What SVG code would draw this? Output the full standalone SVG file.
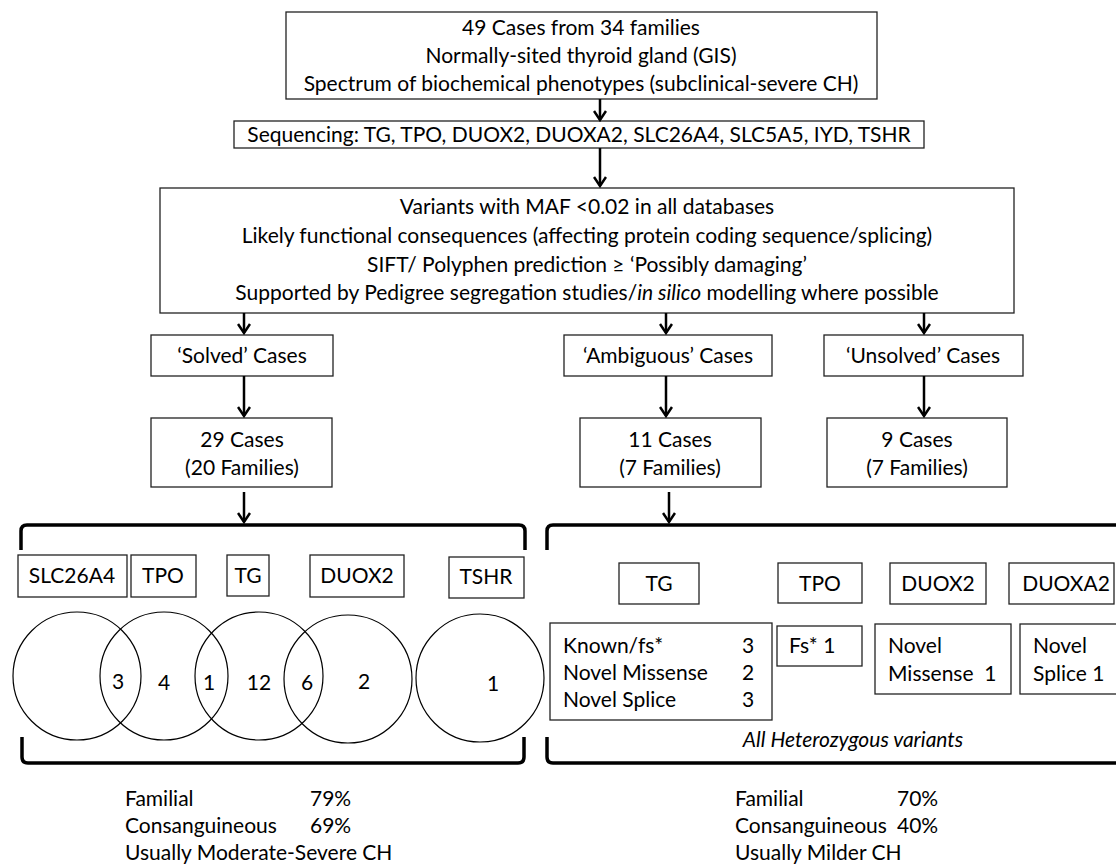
<svg xmlns="http://www.w3.org/2000/svg" width="1116" height="867" viewBox="0 0 1116 867">
<style>
text{font-family:Lato,"Open Sans","Liberation Sans",sans-serif;font-size:21px;fill:#000}
.c{text-anchor:middle}
.box{fill:#fff;stroke:#222;stroke-width:1.3}
.ln{stroke:#000;stroke-width:2.5;fill:none}
.br{stroke:#000;stroke-width:3.5;fill:none}
.cir{fill:none;stroke:#000;stroke-width:1.2}
</style>
<defs>
<marker id="ah" viewBox="0 0 12 14" refX="10" refY="7" markerWidth="12" markerHeight="14" markerUnits="userSpaceOnUse" orient="auto">
<path d="M1,1 L10,7 L1,13" fill="none" stroke="#000" stroke-width="2.5"/>
</marker>
</defs>
<g id="n-top"><rect class="box" x="286" y="12" width="591" height="87"/>
<text class="c" x="581" y="35">49 Cases from 34 families</text>
<text class="c" x="581" y="63">Normally-sited thyroid gland (GIS)</text>
<text class="c" x="581" y="91">Spectrum of biochemical phenotypes (subclinical-severe CH)</text></g>
<g id="n-seq"><rect class="box" x="234" y="121" width="690" height="27"/>
<text class="c" x="579" y="142">Sequencing: TG, TPO, DUOX2, DUOXA2, SLC26A4, SLC5A5, IYD, TSHR</text></g>
<g id="n-filter"><rect class="box" x="160" y="188" width="854" height="125"/>
<text class="c" x="587" y="214">Variants with MAF &lt;0.02 in all databases</text>
<text class="c" x="587" y="243">Likely functional consequences (affecting protein coding sequence/splicing)</text>
<text class="c" x="587" y="272">SIFT/ Polyphen prediction ≥ ‘Possibly damaging’</text>
<text class="c" x="587" y="300">Supported by Pedigree segregation studies/<tspan font-style="italic">in silico</tspan> modelling where possible</text></g>
<g id="n-solved"><rect class="box" x="151" y="335" width="182" height="41"/><text class="c" x="242" y="363">‘Solved’ Cases</text></g>
<g id="n-amb"><rect class="box" x="564" y="335" width="208" height="41"/><text class="c" x="668" y="363">‘Ambiguous’ Cases</text></g>
<g id="n-unsolved"><rect class="box" x="824" y="335" width="199" height="41"/><text class="c" x="923" y="363">‘Unsolved’ Cases</text></g>
<g id="n-29"><rect class="box" x="151" y="418" width="181" height="69"/><text class="c" x="242" y="447">29 Cases</text><text class="c" x="242" y="475">(20 Families)</text></g>
<g id="n-11"><rect class="box" x="580" y="418" width="181" height="69"/><text class="c" x="670" y="447">11 Cases</text><text class="c" x="670" y="475">(7 Families)</text></g>
<g id="n-9"><rect class="box" x="827" y="418" width="180" height="69"/><text class="c" x="917" y="447">9 Cases</text><text class="c" x="917" y="475">(7 Families)</text></g>
<g id="connectors">
<line class="ln" x1="600" y1="99" x2="600" y2="120" marker-end="url(#ah)"/>
<line class="ln" x1="600" y1="148" x2="600" y2="186" marker-end="url(#ah)"/>
<line class="ln" x1="244" y1="313" x2="244" y2="333" marker-end="url(#ah)"/>
<line class="ln" x1="666" y1="313" x2="666" y2="333" marker-end="url(#ah)"/>
<line class="ln" x1="924" y1="313" x2="924" y2="333" marker-end="url(#ah)"/>
<line class="ln" x1="244" y1="376" x2="244" y2="416" marker-end="url(#ah)"/>
<line class="ln" x1="666" y1="376" x2="666" y2="416" marker-end="url(#ah)"/>
<line class="ln" x1="924" y1="376" x2="924" y2="416" marker-end="url(#ah)"/>
<line class="ln" x1="244" y1="492" x2="244" y2="522" marker-end="url(#ah)"/>
<line class="ln" x1="669" y1="492" x2="669" y2="522" marker-end="url(#ah)"/>
</g>
<g id="brackets">
<path class="br" d="M21,550 L21,531 Q21,525 27,525 L519,525 Q525,525 525,531 L525,550"/>
<path class="br" d="M22,737 L22,757 Q22,763 28,763 L518,763 Q524,763 524,757 L524,737"/>
<path class="br" d="M547,550 L547,531 Q547,525 553,525 L1120,525"/>
<path class="br" d="M547,737 L547,757 Q547,763 553,763 L1120,763"/>
</g>
<g id="n-genes-solved">
<rect class="box" x="18" y="555" width="109" height="42"/><text class="c" x="72" y="583">SLC26A4</text>
<rect class="box" x="131" y="555" width="65" height="42"/><text class="c" x="163" y="583">TPO</text>
<rect class="box" x="227" y="555" width="42" height="41"/><text class="c" x="248" y="583">TG</text>
<rect class="box" x="310" y="555" width="94" height="42"/><text class="c" x="357" y="583">DUOX2</text>
<rect class="box" x="449" y="557" width="75" height="41"/><text class="c" x="486" y="584">TSHR</text>
</g>
<g id="venn">
<circle class="cir" cx="77" cy="676" r="64"/>
<circle class="cir" cx="164" cy="676" r="64"/>
<circle class="cir" cx="259" cy="676" r="64"/>
<circle class="cir" cx="348" cy="679" r="64"/>
<circle class="cir" cx="480" cy="678" r="64"/>
<text class="c" x="118" y="689">3</text>
<text class="c" x="164" y="690">4</text>
<text class="c" x="209" y="690">1</text>
<text class="c" x="259" y="690">12</text>
<text class="c" x="307" y="690">6</text>
<text class="c" x="364" y="689">2</text>
<text class="c" x="493" y="691">1</text>
</g>
<g id="n-genes-amb">
<rect class="box" x="619" y="563" width="80" height="41"/><text class="c" x="659" y="591">TG</text>
<rect class="box" x="778" y="563" width="84" height="40"/><text class="c" x="820" y="591">TPO</text>
<rect class="box" x="890" y="563" width="96" height="41"/><text class="c" x="938" y="591">DUOX2</text>
<rect class="box" x="1009" y="563" width="105" height="41"/><text class="c" x="1066" y="591">DUOXA2</text>
</g>
<g id="n-variants">
<rect class="box" x="550" y="623" width="222" height="97"/>
<text x="563" y="653">Known/fs*</text><text x="742" y="653">3</text>
<text x="563" y="680">Novel Missense</text><text x="742" y="680">2</text>
<text x="563" y="707">Novel Splice</text><text x="742" y="707">3</text>
<rect class="box" x="777" y="626" width="85" height="40"/><text x="789" y="653">Fs* 1</text>
<rect class="box" x="875" y="624" width="136" height="70"/><text x="888" y="653">Novel</text><text x="888" y="681">Missense&#160; 1</text>
<rect class="box" x="1020" y="624" width="100" height="70"/><text x="1033" y="653">Novel</text><text x="1033" y="681">Splice 1</text>
<text class="c" x="853" y="747" font-style="italic">All Heterozygous variants</text>
</g>
<g id="summary-left">
<text x="125" y="806">Familial</text><text x="310" y="806">79%</text>
<text x="125" y="833">Consanguineous</text><text x="310" y="833">69%</text>
<text x="125" y="860">Usually Moderate-Severe CH</text>
</g>
<g id="summary-right">
<text x="735" y="806">Familial</text><text x="897" y="806">70%</text>
<text x="735" y="833">Consanguineous</text><text x="897" y="833">40%</text>
<text x="735" y="860">Usually Milder CH</text>
</g>
</svg>
